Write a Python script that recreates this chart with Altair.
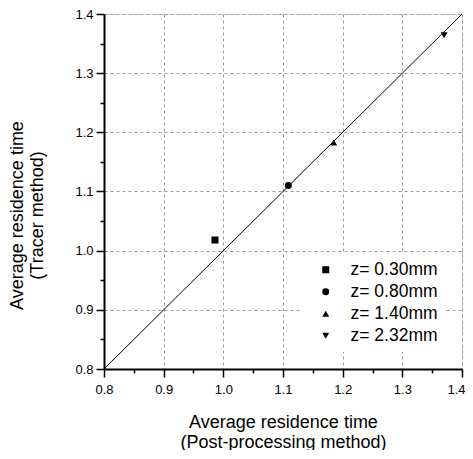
import altair as alt
import pandas as pd

# Data
series = ["z= 0.30mm", "z= 0.80mm", "z= 1.40mm", "z= 2.32mm"]
post_processing = [0.986, 1.109, 1.185, 1.370]
tracer = [1.018, 1.110, 1.183, 1.364]
shapes = ["square", "circle", "triangle-up", "triangle-down"]
marker_sizes = [49, 48, 90, 90]

line_x = [0.8, 1.4]
line_y = [0.8, 1.4]

major_ticks = [0.8, 0.9, 1.0, 1.1, 1.2, 1.3, 1.4]
minor_ticks = [0.85, 0.95, 1.05, 1.15, 1.25, 1.35]

FONT = "Liberation Sans"

pts = pd.DataFrame({"series": series, "x": post_processing, "y": tracer})
ln = pd.DataFrame({"x": line_x, "y": line_y})


def major_axis(title, orient, **kw):
    return alt.Axis(
        orient=orient,
        values=major_ticks,
        format=".1f",
        labelOverlap=False,
        labelFlush=False,
        labelFont=FONT,
        labelFontSize=13,
        labelColor="black",
        ticks=True,
        tickColor="black",
        tickWidth=1.5,
        tickSize=8,
        domainColor="black",
        domainWidth=2,
        grid=True,
        gridColor="#999999",
        gridDash=[3, 3],
        gridWidth=1,
        title=title,
        titleFont=FONT,
        titleFontSize=18,
        titleFontWeight="normal",
        titleColor="black",
        titleLineHeight=20,
        **kw,
    )


def minor_axis(orient):
    return alt.Axis(
        orient=orient,
        values=minor_ticks,
        labels=False,
        grid=False,
        domain=False,
        ticks=True,
        tickColor="black",
        tickWidth=1.5,
        tickSize=4,
        title=None,
    )


xscale = alt.Scale(domain=[0.8, 1.4], nice=False, zero=False)
yscale = alt.Scale(domain=[0.8, 1.4], nice=False, zero=False)

x_axis = major_axis(
    ["Average residence time", "(Post-processing method)"],
    "bottom",
    labelPadding=6,
    labelAlign={"condition": {"test": "datum.value > 1.39", "value": "right"}, "value": "center"},
    labelOffset={"condition": {"test": "datum.value > 1.39", "value": 3}, "value": 0},
    titleY=44,
    titleBaseline="top",
)
y_axis = major_axis(
    ["Average residence time", "(Tracer method)"],
    "left",
    labelPadding=3,
    titleX=-78,
    titleY=201,
    titleAngle=-90,
    titleAlign="center",
    titleBaseline="bottom",
)

line = alt.Chart(ln).mark_line(color="black", strokeWidth=1, clip=True).encode(
    x=alt.X("x:Q", scale=xscale, axis=x_axis),
    y=alt.Y("y:Q", scale=yscale, axis=y_axis),
)

legend_opts = dict(
    title=None,
    orient="none",
    legendX=198,
    legendY=240,
    fillColor="white",
    padding=7,
    symbolOffset=8,
    symbolFillColor="black",
    symbolStrokeWidth=0,
    labelFont=FONT,
    labelFontSize=17.5,
    labelColor="black",
    labelOffset=16,
    rowPadding=3,
)

points = alt.Chart(pts).mark_point(filled=True, color="black", opacity=1).encode(
    x=alt.X("x:Q", scale=xscale, axis=minor_axis("bottom")),
    y=alt.Y("y:Q", scale=yscale, axis=minor_axis("left")),
    shape=alt.Shape(
        "series:N",
        scale=alt.Scale(domain=series, range=shapes),
        legend=alt.Legend(**legend_opts),
    ),
    size=alt.Size(
        "series:N",
        scale=alt.Scale(domain=series, range=marker_sizes),
        legend=alt.Legend(**legend_opts),
    ),
)

chart = (
    alt.layer(line, points)
    .resolve_axis(x="independent", y="independent")
    .properties(
        width=358,
        height=355,
        autosize=alt.AutoSizeParams(type="none"),
        padding={"left": 96, "top": 6, "right": 3, "bottom": 81},
    )
    .configure_view(stroke="black", strokeWidth=1.5)
    .configure(background="white")
)

chart.save("out.html", embed_options={"renderer": "svg", "actions": False})
